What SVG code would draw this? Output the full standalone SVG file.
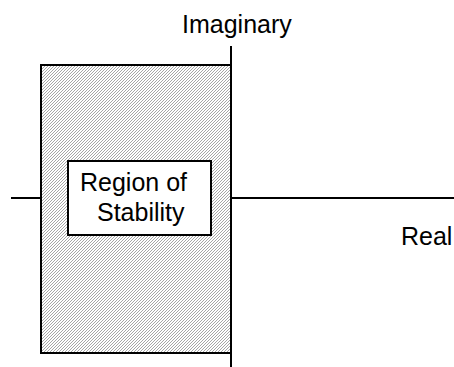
<svg xmlns="http://www.w3.org/2000/svg" width="454" height="367" viewBox="0 0 454 367">
<style>
.ln{stroke:#000;stroke-width:2;fill:none}
.bx{stroke:#000;stroke-width:2}
.t{font-family:"Liberation Sans",Arial,sans-serif;font-size:25px;fill:#000}
</style>
<defs>
<pattern id="hatch" patternUnits="userSpaceOnUse" width="3" height="3">
<rect width="3" height="3" fill="#ffffff"/>
<rect x="0" y="2" width="1" height="1" fill="#a6a6a6"/>
<rect x="1" y="1" width="1" height="1" fill="#a6a6a6"/>
<rect x="2" y="0" width="1" height="1" fill="#a6a6a6"/>
</pattern>
</defs>
<rect width="454" height="367" fill="#fff"/>
<g id="region">
<rect class="bx" x="41" y="65" width="190" height="288" fill="url(#hatch)"/>
</g>
<g id="connectors">
<line class="ln" x1="11" y1="198" x2="41" y2="198"/>
<line class="ln" x1="231" y1="198" x2="454" y2="198"/>
<line class="ln" x1="231" y1="46" x2="231" y2="367"/>
</g>
<g id="stability">
<rect class="bx" x="68" y="161" width="143" height="74" fill="#fff"/>
<text class="t" x="80" y="191">Region of</text>
<text class="t" x="97" y="221">Stability</text>
</g>
<g id="imaginary">
<text class="t" x="182" y="33">Imaginary</text>
</g>
<g id="real">
<text class="t" x="401" y="245">Real</text>
</g>
</svg>
